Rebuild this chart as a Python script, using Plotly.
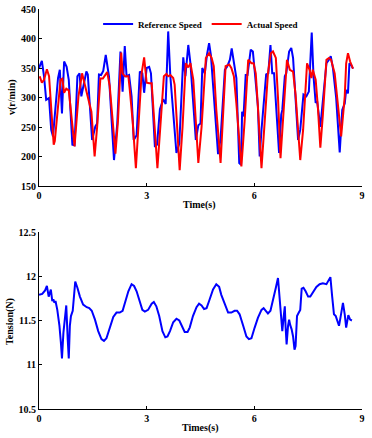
import plotly.graph_objects as go
from plotly.subplots import make_subplots

# Reference speed (blue)
ref_t = [0.00, 0.08, 0.14, 0.20, 0.28, 0.34, 0.39, 0.53, 0.58, 0.64, 0.70, 0.77, 0.83, 0.93, 0.99,
         1.07, 1.13, 1.18, 1.32, 1.36, 1.48, 1.57, 1.62, 1.67, 1.73, 1.79, 1.86, 1.90, 1.95, 2.09,
         2.18, 2.27, 2.33, 2.39, 2.44, 2.51, 2.58, 2.64, 2.72, 2.81, 2.88, 2.93, 3.00, 3.07, 3.12,
         3.23, 3.29, 3.37, 3.46, 3.53, 3.60, 3.66, 3.71, 3.83, 3.91, 4.02, 4.08, 4.16, 4.22, 4.29,
         4.37, 4.44, 4.50, 4.55, 4.62, 4.68, 4.74, 4.79, 4.83, 4.99, 5.06, 5.18, 5.24, 5.32, 5.37,
         5.43, 5.50, 5.58, 5.63, 5.66, 5.70, 5.76, 5.81, 5.90, 5.96, 6.02, 6.10, 6.15, 6.20, 6.33,
         6.39, 6.45, 6.50, 6.55, 6.61, 6.69, 6.75, 6.78, 6.85, 6.89, 6.97, 7.03, 7.08, 7.22, 7.28,
         7.37, 7.45, 7.52, 7.60, 7.65, 7.71, 7.75, 7.84, 8.01, 8.08, 8.13, 8.19, 8.28, 8.38, 8.45,
         8.52, 8.56, 8.61, 8.65, 8.70, 8.75]
ref_v = [350, 362, 336, 296, 299, 245, 234, 333, 347, 273, 361, 352, 330, 220, 219,
         336, 341, 302, 344, 339, 228, 251, 256, 339, 338, 345, 372, 358, 336, 194,
         255, 378, 310, 387, 336, 338, 302, 228, 236, 344, 341, 308, 350, 352, 341,
         216, 220, 280, 297, 289, 412, 336, 299, 206, 222, 368, 336, 389, 358, 302,
         228, 253, 256, 350, 341, 372, 392, 372, 341, 204, 230, 347, 352, 364, 383,
         360, 333, 189, 186, 276, 268, 338, 338, 381, 378, 339, 285, 200, 245, 339,
         341, 389, 341, 341, 290, 206, 271, 279, 336, 341, 378, 384, 367, 228, 245,
         305, 302, 310, 410, 336, 291, 294, 250, 358, 364, 370, 350, 300, 207, 279,
         290, 313, 307, 358, 355, 349]

# Actual speed (red)
act_t = [0.02, 0.08, 0.14, 0.22, 0.28, 0.41, 0.44, 0.51, 0.60, 0.65, 0.70, 0.76, 0.83, 0.99, 1.10,
         1.20, 1.27, 1.41, 1.46, 1.55, 1.62, 1.71, 1.78, 1.90, 1.97, 2.13, 2.20, 2.29, 2.33, 2.39,
         2.49, 2.53, 2.61, 2.70, 2.79, 2.86, 2.93, 3.00, 3.07, 3.14, 3.30, 3.39, 3.48, 3.55, 3.60,
         3.66, 3.74, 3.78, 3.92, 4.00, 4.09, 4.16, 4.22, 4.30, 4.44, 4.53, 4.65, 4.74, 4.81, 4.87,
         4.94, 5.06, 5.13, 5.20, 5.30, 5.36, 5.43, 5.50, 5.64, 5.73, 5.83, 5.92, 5.98, 6.04, 6.10,
         6.20, 6.29, 6.38, 6.46, 6.52, 6.60, 6.66, 6.73, 6.80, 6.91, 6.99, 7.08, 7.15, 7.28, 7.36,
         7.47, 7.54, 7.59, 7.63, 7.71, 7.77, 7.84, 7.91, 8.01, 8.08, 8.14, 8.24, 8.33, 8.42, 8.52,
         8.56, 8.61, 8.67, 8.75]
act_v = [336, 325, 330, 348, 336, 220, 226, 273, 330, 332, 308, 315, 312, 217, 302,
         341, 322, 285, 276, 200, 250, 332, 332, 343, 320, 205, 260, 376, 341, 336,
         336, 313, 260, 180, 270, 341, 368, 325, 324, 324, 180, 250, 336, 340, 336,
         338, 333, 322, 177, 250, 358, 351, 358, 330, 189, 250, 367, 375, 367, 353,
         280, 189, 270, 353, 356, 350, 336, 290, 183, 260, 364, 358, 358, 341, 285,
         180, 260, 341, 375, 378, 367, 300, 197, 260, 364, 347, 344, 305, 194, 245,
         358, 347, 333, 347, 330, 285, 215, 270, 364, 367, 364, 341, 290, 234, 302,
         358, 375, 361, 349]

# Tension
ten_t = [0.00, 0.09, 0.17, 0.22, 0.27, 0.31, 0.33, 0.37, 0.40, 0.43, 0.46, 0.51, 0.57, 0.61, 0.64,
         0.68, 0.72, 0.76, 0.80, 0.83, 0.86, 0.89, 0.94, 0.97, 1.01, 1.07, 1.14, 1.23, 1.33, 1.40,
         1.47, 1.56, 1.65, 1.74, 1.81, 1.88, 1.98, 2.07, 2.16, 2.25, 2.33, 2.39, 2.49, 2.58, 2.65,
         2.72, 2.81, 2.88, 2.95, 3.04, 3.14, 3.20, 3.27, 3.35, 3.44, 3.52, 3.58, 3.65, 3.74, 3.83,
         3.91, 3.97, 4.06, 4.14, 4.20, 4.29, 4.39, 4.46, 4.53, 4.60, 4.67, 4.74, 4.85, 4.94, 5.02,
         5.08, 5.18, 5.27, 5.36, 5.45, 5.52, 5.59, 5.69, 5.78, 5.85, 5.92, 6.01, 6.10, 6.20, 6.26,
         6.32, 6.38, 6.45, 6.52, 6.60, 6.66, 6.71, 6.75, 6.78, 6.82, 6.85, 6.87, 6.90, 6.94, 6.97,
         7.00, 7.04, 7.08, 7.12, 7.15, 7.19, 7.24, 7.28, 7.32, 7.37, 7.43, 7.50, 7.56, 7.63, 7.73,
         7.82, 7.91, 8.01, 8.06, 8.12, 8.17, 8.22, 8.27, 8.31, 8.36, 8.40, 8.47, 8.52, 8.56, 8.62,
         8.67, 8.72]
ten_v = [11.79, 11.80, 11.84, 11.89, 11.77, 11.82, 11.85, 11.72, 11.74, 11.70, 11.72, 11.62, 11.44, 11.25, 11.07,
         11.36, 11.55, 11.67, 11.29, 11.07, 11.44, 11.55, 11.61, 11.81, 11.94, 11.87, 11.77, 11.68, 11.65, 11.64,
         11.61, 11.51, 11.38, 11.29, 11.27, 11.30, 11.42, 11.54, 11.59, 11.59, 11.61, 11.70, 11.83, 11.91, 11.89,
         11.83, 11.70, 11.62, 11.60, 11.62, 11.69, 11.71, 11.66, 11.55, 11.38, 11.31, 11.32, 11.38, 11.48, 11.52,
         11.50, 11.44, 11.37, 11.37, 11.42, 11.55, 11.65, 11.69, 11.67, 11.63, 11.64, 11.72, 11.85, 11.91, 11.88,
         11.79, 11.68, 11.59, 11.59, 11.61, 11.61, 11.57, 11.44, 11.32, 11.29, 11.30, 11.42, 11.53, 11.62, 11.64,
         11.61, 11.58, 11.61, 11.72, 11.87, 11.98, 11.74, 11.51, 11.38, 11.55, 11.66, 11.44, 11.23, 11.44, 11.51,
         11.45, 11.40, 11.32, 11.17, 11.21, 11.55, 11.59, 11.62, 11.86, 11.87, 11.83, 11.77, 11.77, 11.81, 11.88,
         11.91, 11.92, 11.91, 11.94, 11.99, 11.77, 11.57, 11.55, 11.51, 11.44, 11.53, 11.70, 11.57, 11.42, 11.56,
         11.51, 11.50]

x_ticks = [0, 3, 6, 9]
speed_ticks = [150, 200, 250, 300, 350, 400, 450]
tension_ticks = [10.5, 11, 11.5, 12, 12.5]
tension_labels = ["10.5", "11", "11.5", "12", "12.5"]

FONT = "Liberation Serif, Times New Roman, serif"
TXT = dict(family=FONT, size=10, color="black", weight="bold")

fig = make_subplots(rows=2, cols=1)

fig.add_trace(go.Scatter(x=ref_t, y=ref_v, mode="lines", name="Reference Speed",
                         line=dict(color="#0000FF", width=2)), row=1, col=1)
fig.add_trace(go.Scatter(x=act_t, y=act_v, mode="lines", name="Actual Speed",
                         line=dict(color="#FF0000", width=2)), row=1, col=1)
fig.add_trace(go.Scatter(x=ten_t, y=ten_v, mode="lines", showlegend=False,
                         line=dict(color="#0000FF", width=2)), row=2, col=1)

axis_common = dict(showline=True, linecolor="black", linewidth=1, ticks="inside",
                   ticklen=3, tickcolor="black", showgrid=False, zeroline=False,
                   automargin=False, tickfont=TXT)

fig.update_xaxes(range=[0, 9.001], tickvals=x_ticks, ticktext=["0", "3", "6", "9"],
                 **axis_common)
fig.update_yaxes(range=[150, 450], tickvals=speed_ticks, domain=[0.5575, 1.0],
                 row=1, col=1, **axis_common)
fig.update_yaxes(range=[10.5, 12.5], tickvals=tension_ticks, ticktext=tension_labels,
                 domain=[0.0, 0.4425], row=2, col=1, **axis_common)

# axis titles as annotations for precise placement
titles = [
    dict(text="Time(s)", x=0.498, y=0.51, textangle=0),
    dict(text="Times(s)", x=0.498, y=-0.0475, textangle=0),
    dict(text="v(r/min)", x=-0.0836, y=0.78, textangle=-90),
    dict(text="Tension(N)", x=-0.0898, y=0.22, textangle=-90),
]
for t in titles:
    fig.add_annotation(text=t["text"], x=t["x"], y=t["y"], xref="paper", yref="paper",
                       xanchor="center", yanchor="middle", textangle=t["textangle"],
                       showarrow=False, font=TXT)

fig.update_layout(
    width=372, height=438,
    margin=dict(l=39, r=10, t=9, b=29),
    paper_bgcolor="white", plot_bgcolor="white",
    font=TXT,
    legend=dict(orientation="h", x=0.183, y=0.9625, xanchor="left", yanchor="middle",
                bgcolor="rgba(0,0,0,0)",
                font=dict(family=FONT, size=9, color="black", weight="bold"),
                itemwidth=30, tracegroupgap=0),
    showlegend=True,
)

fig.write_html("out.html", config={"displayModeBar": False},
               post_script="document.body.style.margin='0';")
